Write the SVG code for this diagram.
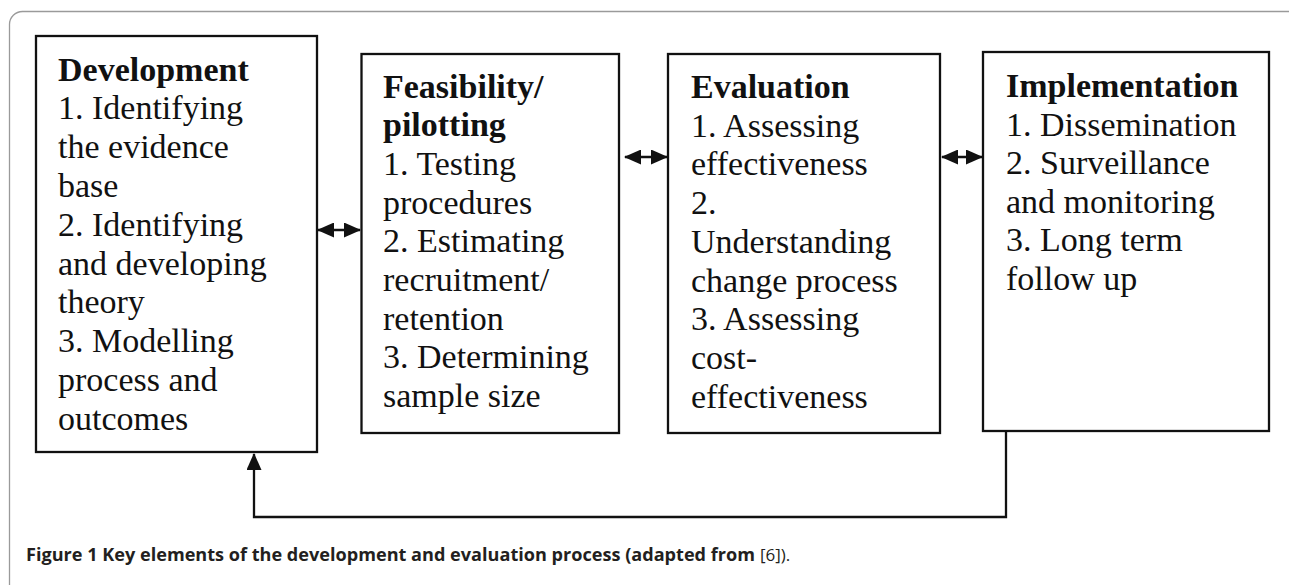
<svg xmlns="http://www.w3.org/2000/svg" width="1289" height="585" viewBox="0 0 1289 585">
  <defs>
    <style>
      .box { fill: #ffffff; stroke: #111111; stroke-width: 2.3; }
      .t { font-family: "Liberation Serif", "Times New Roman", serif; font-size: 34px; fill: #111111; }
      .b { font-weight: bold; }
      .conn { fill: none; stroke: #111111; stroke-width: 2.3; }
      .cap { font-family: "Open Sans", "Noto Sans", sans-serif; font-size: 17px; fill: #231f20; }
    </style>
    <marker id="head" viewBox="0 0 17 15" refX="16" refY="7.5" markerWidth="17" markerHeight="15" markerUnits="userSpaceOnUse" orient="auto-start-reverse">
      <path d="M0,0 L17,7.5 L0,15 Z" fill="#111111"/>
    </marker>
  </defs>

  <rect id="frame" x="9.5" y="11.5" width="1300" height="620" rx="13" ry="13" fill="none" stroke="#9a9a9a" stroke-width="1.3"/>

  <g id="node-development">
    <rect class="box" x="36" y="36" width="281" height="416"/>
    <text class="t" x="58" y="80.5">
      <tspan class="b" x="58">Development</tspan>
      <tspan x="58" dy="38.8">1. Identifying</tspan>
      <tspan x="58" dy="38.8">the evidence</tspan>
      <tspan x="58" dy="38.8">base</tspan>
      <tspan x="58" dy="38.8">2. Identifying</tspan>
      <tspan x="58" dy="38.8">and developing</tspan>
      <tspan x="58" dy="38.8">theory</tspan>
      <tspan x="58" dy="38.8">3. Modelling</tspan>
      <tspan x="58" dy="38.8">process and</tspan>
      <tspan x="58" dy="38.8">outcomes</tspan>
    </text>
  </g>

  <g id="node-feasibility">
    <rect class="box" x="361.5" y="54" width="257.5" height="379"/>
    <text class="t" x="383" y="97.5">
      <tspan class="b" x="383">Feasibility/</tspan>
      <tspan class="b" x="383" dy="38.7">pilotting</tspan>
      <tspan x="383" dy="38.7">1. Testing</tspan>
      <tspan x="383" dy="38.7">procedures</tspan>
      <tspan x="383" dy="38.7">2. Estimating</tspan>
      <tspan x="383" dy="38.7">recruitment/</tspan>
      <tspan x="383" dy="38.7">retention</tspan>
      <tspan x="383" dy="38.7">3. Determining</tspan>
      <tspan x="383" dy="38.7">sample size</tspan>
    </text>
  </g>

  <g id="node-evaluation">
    <rect class="box" x="668" y="54" width="272" height="379"/>
    <text class="t" x="691" y="98">
      <tspan class="b" x="691">Evaluation</tspan>
      <tspan x="691" dy="38.7">1. Assessing</tspan>
      <tspan x="691" dy="38.7">effectiveness</tspan>
      <tspan x="691" dy="38.7">2.</tspan>
      <tspan x="691" dy="38.7">Understanding</tspan>
      <tspan x="691" dy="38.7">change process</tspan>
      <tspan x="691" dy="38.7">3. Assessing</tspan>
      <tspan x="691" dy="38.7">cost-</tspan>
      <tspan x="691" dy="38.7">effectiveness</tspan>
    </text>
  </g>

  <g id="node-implementation">
    <rect class="box" x="983" y="52" width="286" height="379"/>
    <text class="t" x="1006" y="97">
      <tspan class="b" x="1006">Implementation</tspan>
      <tspan x="1006" dy="38.6">1. Dissemination</tspan>
      <tspan x="1006" dy="38.6">2. Surveillance</tspan>
      <tspan x="1006" dy="38.6">and monitoring</tspan>
      <tspan x="1006" dy="38.6">3. Long term</tspan>
      <tspan x="1006" dy="38.6">follow up</tspan>
    </text>
  </g>

  <g id="connectors">
    <line class="conn" x1="318" y1="230" x2="360" y2="230" marker-start="url(#head)" marker-end="url(#head)"/>
    <line class="conn" x1="625" y1="157" x2="667" y2="157" marker-start="url(#head)" marker-end="url(#head)"/>
    <line class="conn" x1="942" y1="157" x2="982" y2="157" marker-start="url(#head)" marker-end="url(#head)"/>
    <polyline class="conn" points="1006,431 1006,517 254,517 254,454" marker-end="url(#head)"/>
  </g>

  <g id="caption">
    <text class="cap" x="26" y="561" font-weight="bold" textLength="729" lengthAdjust="spacingAndGlyphs">Figure 1 Key elements of the development and evaluation process (adapted from</text>
    <text class="cap" x="760" y="561" fill="#444444">[6]).</text>
  </g>
</svg>
